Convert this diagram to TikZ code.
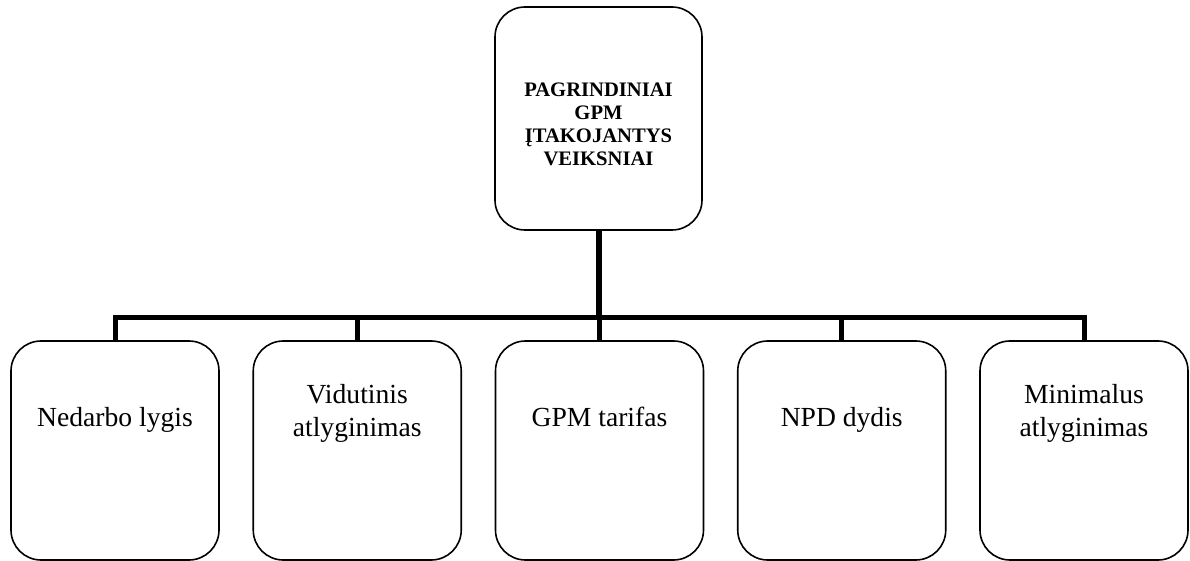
\documentclass[tikz,border=0pt]{standalone}
\usepackage{fontspec}
\setmainfont{Liberation Serif}
\tikzset{
  factorbox/.style={draw,line width=0.8pt,rounded corners=15pt,minimum width=104pt,minimum height=109.5pt,inner sep=0pt},
  boxtext/.style={align=center,font=\fontsize{13.8}{16.5}\selectfont,yshift=18.5pt},
  linetext/.style={font=\fontsize{13.8}{16.5}\selectfont,text height=9.7pt,text depth=0pt,yshift=16.75pt},
  trunkline/.style={line width=3pt},
  branchline/.style={line width=2.5pt,line join=miter},
}
\begin{document}
\begin{tikzpicture}[x=0.5pt,y=-0.5pt]
\useasboundingbox (0,0) rectangle (1190,561);
\node[factorbox,minimum width=103.5pt,minimum height=111.5pt,
  label={[yshift=-3pt,align=center,font=\fontsize{10.3}{11.6}\selectfont\bfseries]center:PAGRINDINIAI\\GPM\\ĮTAKOJANTYS\\VEIKSNIAI}] (top) at (598.5,118.5) {};
\node[factorbox,label={[linetext]center:Nedarbo lygis}] (b1) at (115,450.5) {};
\node[factorbox,label={[boxtext]center:Vidutinis\\atlyginimas}] (b2) at (357.25,450.5) {};
\node[factorbox,label={[linetext]center:GPM tarifas}] (b3) at (599.5,450.5) {};
\node[factorbox,label={[linetext]center:NPD dydis}] (b4) at (841.75,450.5) {};
\node[factorbox,label={[boxtext]center:Minimalus\\atlyginimas}] (b5) at (1084,450.5) {};
\coordinate (hub) at (598.5,318);
\draw[trunkline] (top.south) -- (hub);
\draw[branchline] (b1.north) |- (hub) -| (b5.north);
\draw[branchline] (b2.north) -- (b2.north |- hub);
\draw[branchline] (b3.north) -- (b3.north |- hub);
\draw[branchline] (b4.north) -- (b4.north |- hub);
\end{tikzpicture}
\end{document}
